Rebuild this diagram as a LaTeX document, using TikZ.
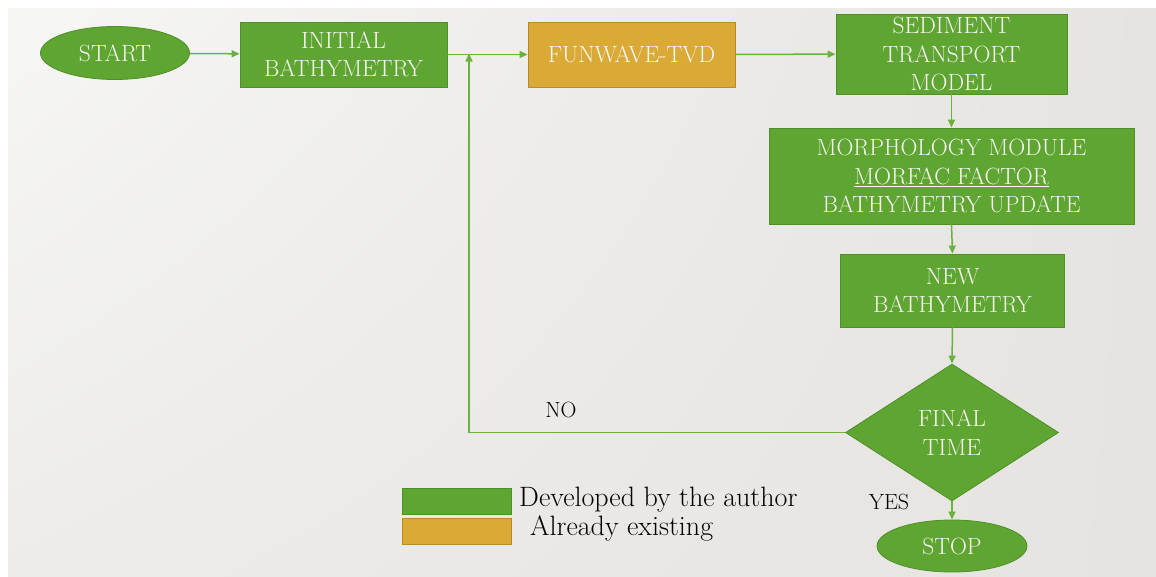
\documentclass[tikz,border=0pt]{standalone}
\usetikzlibrary{shapes.geometric,arrows.meta,shadings}
\definecolor{boxgreen}{HTML}{5EA532}
\definecolor{boxgreenedge}{HTML}{4F8F2A}
\definecolor{boxorange}{HTML}{DBA935}
\definecolor{boxorangeedge}{HTML}{B98A28}
\definecolor{linkgreen}{HTML}{6CB140}
\definecolor{boxtext}{HTML}{F7F7F2}
\definecolor{bgA}{HTML}{F6F6F4}
\definecolor{bgB}{HTML}{EDECE9}
\definecolor{bgC}{HTML}{E6E4E0}
\begin{document}
\begin{tikzpicture}[x=1pt,y=-1pt,
  boxfont/.style={font=\fontsize{23.5}{28.5}\selectfont, text=boxtext, align=center},
  procbox/.style={boxfont, rectangle, fill=boxgreen, draw=boxgreenedge, line width=0.8pt, inner sep=0pt},
  existbox/.style={boxfont, rectangle, fill=boxorange, draw=boxorangeedge, line width=0.8pt, inner sep=0pt},
  termnode/.style={boxfont, ellipse, fill=boxgreen, draw=boxgreenedge, line width=0.8pt, inner sep=0pt,
    minimum width=149pt, minimum height=53pt},
  decisionnode/.style={boxfont, diamond, fill=boxgreen, draw=boxgreenedge, line width=0.8pt, inner sep=0pt,
    minimum width=213pt, minimum height=137pt},
  link/.style={draw=linkgreen, line width=1.5pt, -{Triangle[length=8pt,width=7pt]}},
  answer/.style={font=\fontsize{22}{24}\selectfont, text=black},
  legendtext/.style={font=\fontsize{28}{30}\selectfont, text=black, anchor=west, inner sep=0pt}
]
\useasboundingbox (0,0) rectangle (1156,576);
% page and slide background
\fill[white] (0,0) rectangle (1156,576);
\shade[upper left=bgA, upper right=bgC, lower left=bgB, lower right=bgC] (8,8) rectangle (1156,576);

% flowchart nodes
\node[termnode] (start) at (115,53) {START};
\node[procbox, minimum width=207pt, minimum height=65pt] (init) at (343.5,54.5) {INITIAL\\BATHYMETRY};
\node[existbox, minimum width=207pt, minimum height=65pt] (fun) at (631.5,54.5) {FUNWAVE-TVD};
\node[procbox, minimum width=231pt, minimum height=80pt] (sed) at (951.5,54) {SEDIMENT\\TRANSPORT\\MODEL};
\node[procbox, minimum width=365pt, minimum height=96pt] (morph) at (951.5,176) {MORPHOLOGY MODULE\\\underline{MORFAC FACTOR}\\BATHYMETRY UPDATE};
\node[procbox, minimum width=224pt, minimum height=73pt] (newb) at (952.5,290.5) {NEW\\BATHYMETRY};
\node[decisionnode] (final) at (952,432.5) {FINAL\\TIME};
\node[termnode, minimum width=150pt, minimum height=52pt] (stop) at (952,546) {STOP};

% loop junction
\coordinate (join) at (469,54.5);

% connectors
\draw[link] (start) -- (init);
\draw[link] (init) -- (fun);
\draw[link] (fun) -- (sed);
\draw[link] (sed.south) -- (morph.north);
\draw[link] (morph.south) -- (newb.north);
\draw[link] (newb.south) -- (final.north);
\draw[link] (final.south) -- (stop.north);
\draw[link] (final.west) -- (final.west -| join) -- ([yshift=1pt]join);

% answers
\node[answer] (no) at (561,410) {NO};
\node[answer] (yes) at (889,502) {YES};

% legend
\node[procbox, minimum width=109pt, minimum height=26pt] (legdev) at (456.5,501) {};
\node[existbox, minimum width=109pt, minimum height=26pt] (legold) at (456.5,531.5) {};
\node[legendtext] (legdevtext) at (519,500) {Developed by the author};
\node[legendtext] (legoldtext) at (530,528) {Already existing};
\end{tikzpicture}
\end{document}
